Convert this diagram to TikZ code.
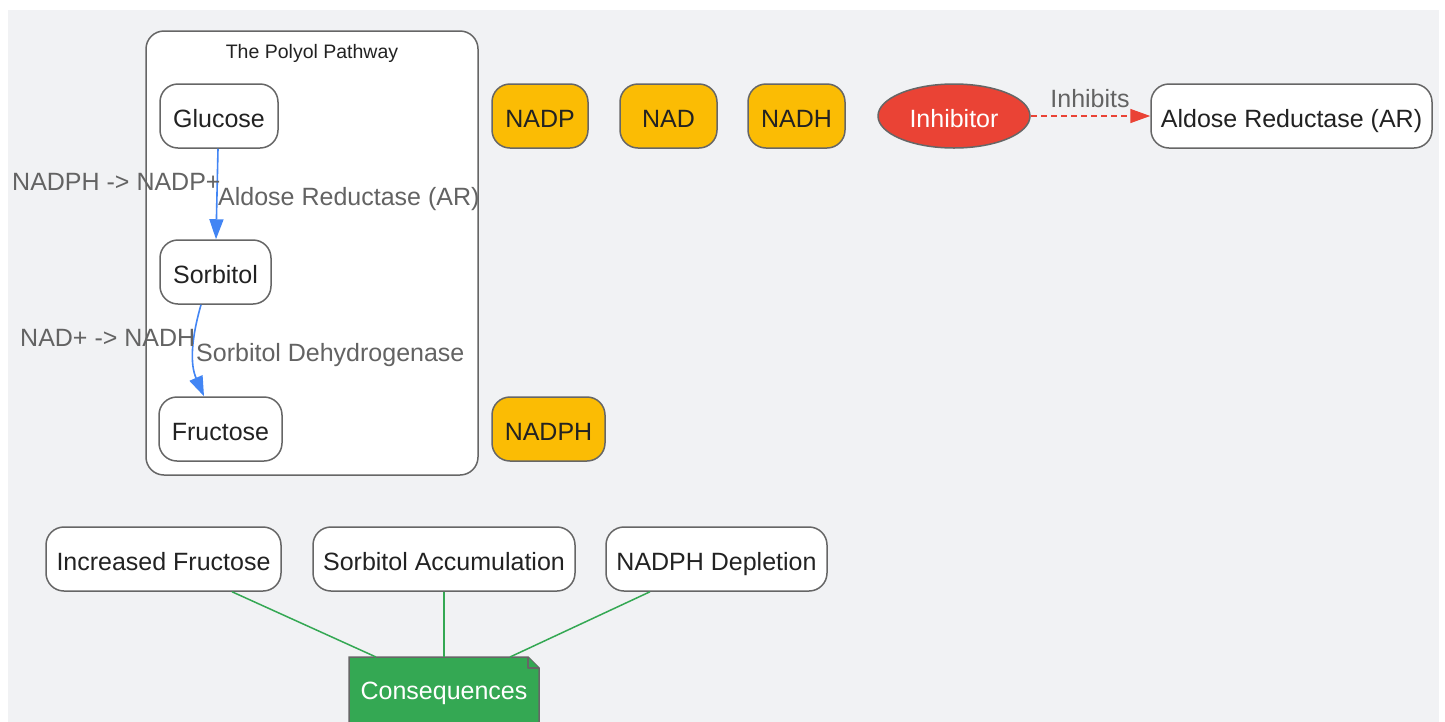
\documentclass[tikz,border=0pt]{standalone}
\usepackage{fontspec}
\setmainfont{Liberation Sans}
\usetikzlibrary{shapes.geometric,arrows.meta,calc}
\definecolor{bgc}{HTML}{F1F2F4}
\definecolor{strokec}{HTML}{666666}
\definecolor{txtc}{HTML}{222222}
\definecolor{lblc}{HTML}{636363}
\definecolor{yelc}{HTML}{FBBC04}
\definecolor{redc}{HTML}{EA4335}
\definecolor{grnc}{HTML}{34A853}
\definecolor{bluc}{HTML}{4285F4}
\begin{document}
\begin{tikzpicture}[x=1pt,y=-1pt,
 box/.style={draw=strokec, line width=1.5pt, fill=white, rounded corners=18pt, minimum height=64pt, inner sep=0pt, font=\fontsize{25}{29}\selectfont, text=txtc, text height=22pt, text depth=0pt},
 cof/.style={box, fill=yelc},
 elbl/.style={font=\fontsize{25}{29}\selectfont, text=lblc, inner sep=0pt, text height=22pt, text depth=0pt},
 flow/.style={draw=bluc, line width=1.6pt, -{Triangle[length=20pt,width=14pt]}},
 conn/.style={draw=grnc, line width=1.5pt},
]
\useasboundingbox (0,0) rectangle (1445,721);
\clip (0,0) rectangle (1445,721);
\fill[bgc] (8,10) rectangle (1439,730);

% cluster
\node[draw=strokec, line width=1.5pt, fill=white, rounded corners=18pt, minimum width=332pt, minimum height=444pt, inner sep=0pt] (clu) at (312,253) {};
\node[font=\fontsize{19.5}{23}\selectfont, text=txtc, inner sep=0pt, text height=15pt, text depth=0pt] (clutitle) at (312,51) {The Polyol Pathway};

\node[box, minimum width=118pt] (gluc) at (219,116) {Glucose};
\node[box, minimum width=111pt] (sorb) at (215.5,272) {Sorbitol};
\node[box, minimum width=123pt] (fruc) at (220.5,429) {Fructose};

\node[cof, minimum width=96pt] (nadp) at (540,116) {NADP};
\node[cof, minimum width=97pt] (nad) at (668.5,116) {NAD};
\node[cof, minimum width=97pt] (nadh) at (796.5,116) {NADH};
\node[cof, minimum width=113pt] (nadph) at (548.5,429) {NADPH};

\node[ellipse, draw=strokec, line width=1.5pt, fill=redc, text=white, minimum width=152pt, minimum height=64pt, inner sep=0pt, font=\fontsize{25}{29}\selectfont, text height=22pt, text depth=0pt] (inh) at (954,116) {Inhibitor};
\node[box, minimum width=281pt] (ar) at (1291.5,116) {Aldose Reductase (AR)};

\node[box, minimum width=235pt] (incf) at (163.5,559) {Increased Fructose};
\node[box, minimum width=262pt] (sacc) at (444,559) {Sorbitol Accumulation};
\node[box, minimum width=221pt] (ndep) at (716.5,559) {NADPH Depletion};

% Consequences (folded-corner note)
\coordinate (constop) at (444,657);
\filldraw[fill=grnc, draw=strokec, line width=1.5pt] (349,657) -- (528,657) -- (539,668) -- (539,735) -- (349,735) -- cycle;
\filldraw[fill=grnc, draw=strokec, line width=1.5pt, line join=round] (528,657) -- (528,668) -- (539,668);
\node[font=\fontsize{25}{29}\selectfont, text=white, inner sep=0pt, text height=22pt, text depth=0pt] (cons) at (444,688) {Consequences};

% edges
\draw[flow] ([xshift=-1pt]gluc.south) -- ([xshift=0.5pt]sorb.north);
\draw[flow] ([xshift=-14.5pt]sorb.south) .. controls +(-10,35) and +(-14,-32) .. ([xshift=-16.5pt]fruc.north);
\draw[draw=redc, line width=1.6pt, dashed, dash pattern=on 6pt off 4pt, -{Triangle[length=20pt,width=14pt]}] (inh.east) -- (ar.west);

\node[elbl, anchor=west] (l1) at (12,179) {NADPH -> NADP+};
\node[elbl, anchor=west] (l2) at (218,194) {Aldose Reductase (AR)};
\node[elbl, anchor=west] (l3) at (20,335) {NAD+ -> NADH};
\node[elbl, anchor=west] (l4) at (196,350) {Sorbitol Dehydrogenase};
\node[elbl] (l5) at (1090,96) {Inhibits};

\draw[conn] ([xshift=68.5pt]incf.south) -- ([xshift=-68pt]constop);
\draw[conn] (sacc.south) -- (constop);
\draw[conn] ([xshift=-66.5pt]ndep.south) -- ([xshift=66pt]constop);
\end{tikzpicture}
\end{document}
